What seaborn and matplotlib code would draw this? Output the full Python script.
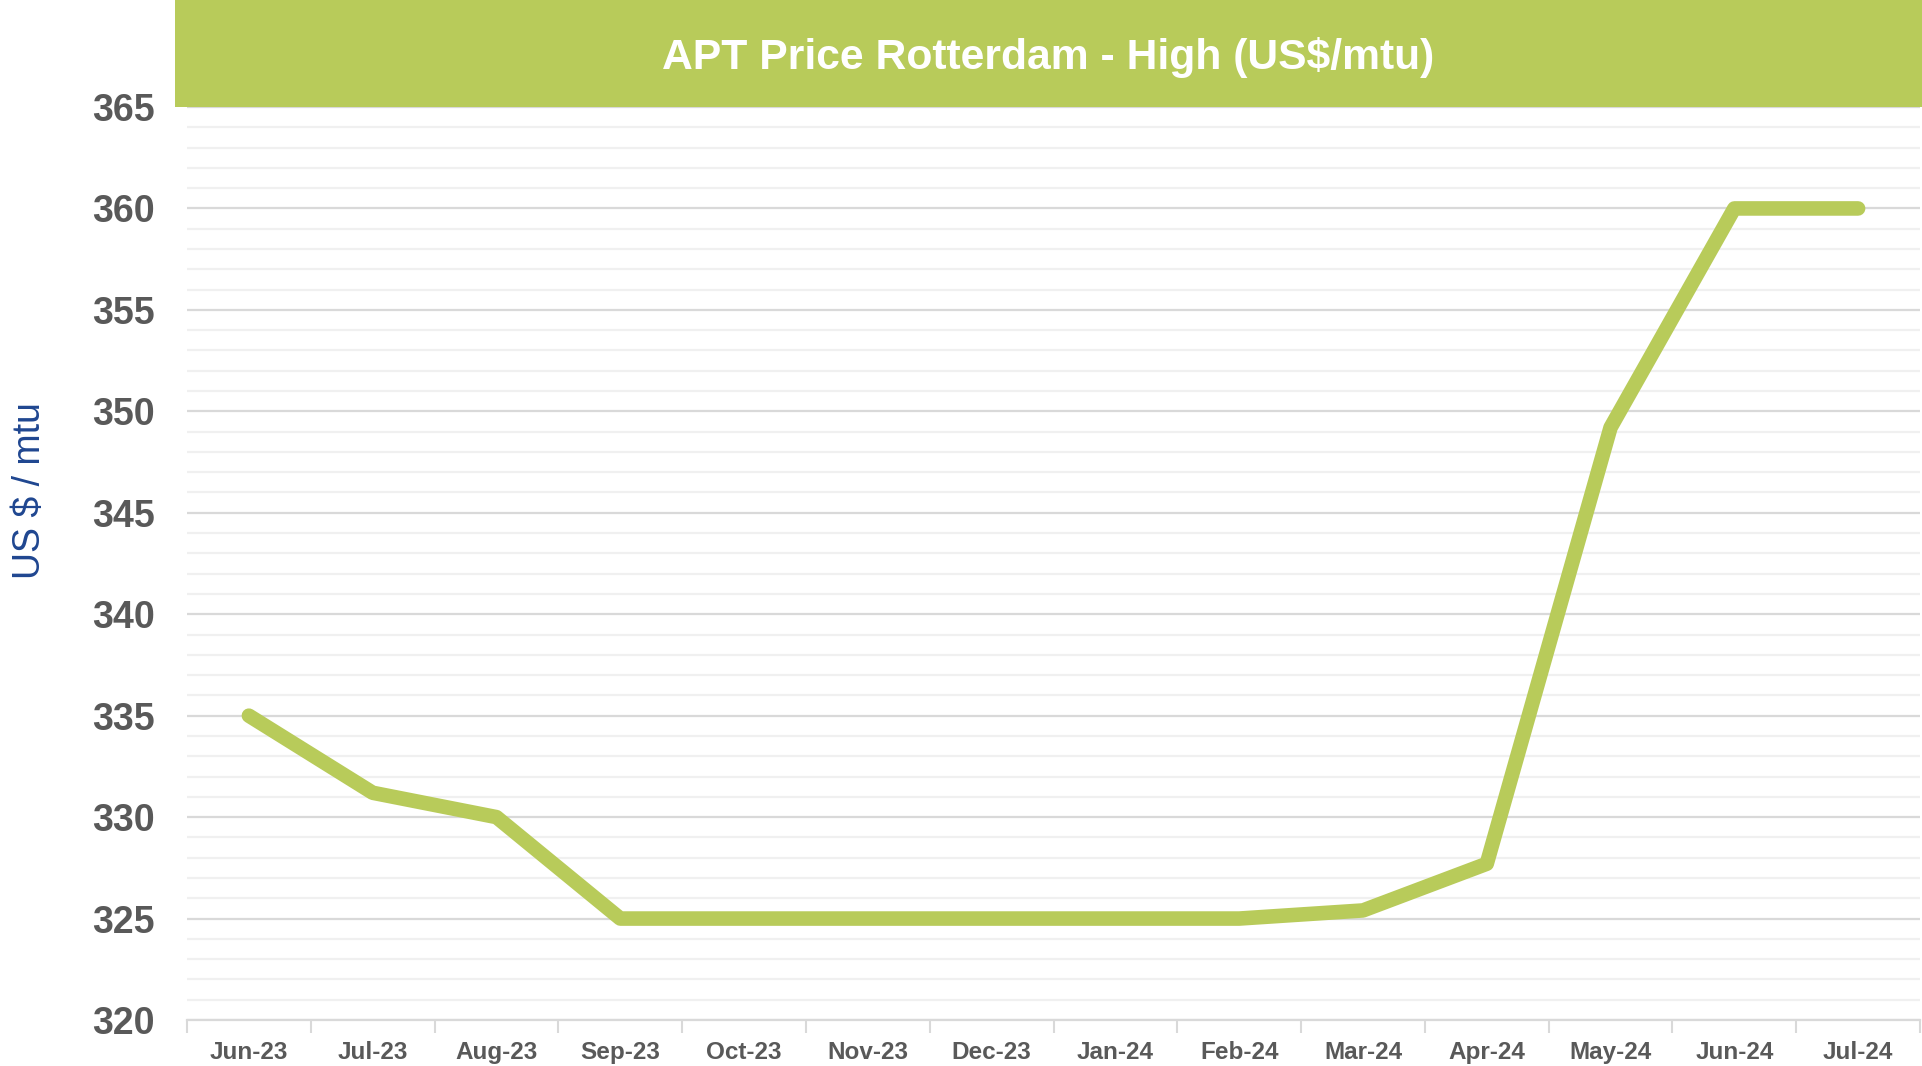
# APT Price Rotterdam - High line chart
import numpy as np
import pandas as pd
import seaborn as sns
import matplotlib.pyplot as plt
from matplotlib.patches import Rectangle
from matplotlib.ticker import FixedLocator, MultipleLocator

months = ["Jun-23", "Jul-23", "Aug-23", "Sep-23", "Oct-23", "Nov-23", "Dec-23",
          "Jan-24", "Feb-24", "Mar-24", "Apr-24", "May-24", "Jun-24", "Jul-24"]
price_high = [335.0, 331.2, 330.0, 325.0, 325.0, 325.0, 325.0,
              325.0, 325.0, 325.4, 327.7, 349.2, 360.0, 360.0]
y_ticks = [320, 325, 330, 335, 340, 345, 350, 355, 360, 365]

df = pd.DataFrame({"month": months, "price": price_high})

sns.set_theme(style="white")
plt.rcParams['font.family'] = ['Liberation Sans', 'DejaVu Sans']

green = "#b8cb5a"
grey_txt = "#595959"

fig = plt.figure(figsize=(19.22, 10.66), dpi=100)
ax = fig.add_axes([187 / 1922, 46 / 1066, 1733 / 1922, 913 / 1066])

# gridlines first so the line sits on top
ax.set_ylim(320, 365)
ax.yaxis.set_major_locator(FixedLocator(y_ticks))
ax.yaxis.set_minor_locator(MultipleLocator(1))
ax.grid(axis="y", which="major", color="#d9d9d9", linewidth=1.6)
ax.grid(axis="y", which="minor", color="#f0f0f0", linewidth=1.6)
ax.set_axisbelow(True)

sns.lineplot(data=df, x="month", y="price", ax=ax, color=green,
             linewidth=10.5, sort=False)
for ln in ax.lines:
    ln.set_solid_capstyle("round")
    ln.set_solid_joinstyle("round")

ax.set_xlim(-0.5, len(months) - 0.5)
ax.set_xticks(range(len(months)))
ax.set_xticklabels(months)
ax.xaxis.set_minor_locator(FixedLocator(np.arange(-0.5, len(months), 1.0)))
ax.tick_params(axis="x", which="major", length=0, pad=15,
               labelsize=17.5, labelcolor=grey_txt)
ax.tick_params(axis="x", which="minor", length=9, width=1.5,
               color="#d9d9d9", direction="out", bottom=True)
ax.tick_params(axis="y", which="both", length=0, pad=23,
               labelsize=27, labelcolor=grey_txt)
for lab in ax.get_xticklabels() + ax.get_yticklabels():
    lab.set_fontweight("bold")

for s in ["top", "right", "left"]:
    ax.spines[s].set_visible(False)
ax.spines["bottom"].set_color("#d9d9d9")
ax.spines["bottom"].set_linewidth(1.6)

ax.set_xlabel("")
ax.set_ylabel("US $ / mtu", fontsize=27, color="#1f4690")
ax.yaxis.set_label_coords(-0.080, 0.58)

# title band
fig.add_artist(Rectangle((175 / 1922, 959 / 1066), 1 - 175 / 1922, 107 / 1066,
                         transform=fig.transFigure, facecolor=green,
                         edgecolor="none", zorder=5))
fig.text(1048 / 1922, 1 - 57 / 1066, "APT Price Rotterdam - High (US$/mtu)",
         ha="center", va="center", color="white", fontsize=30.7,
         fontweight="bold", zorder=6)

fig.savefig("out.png", dpi=100)
